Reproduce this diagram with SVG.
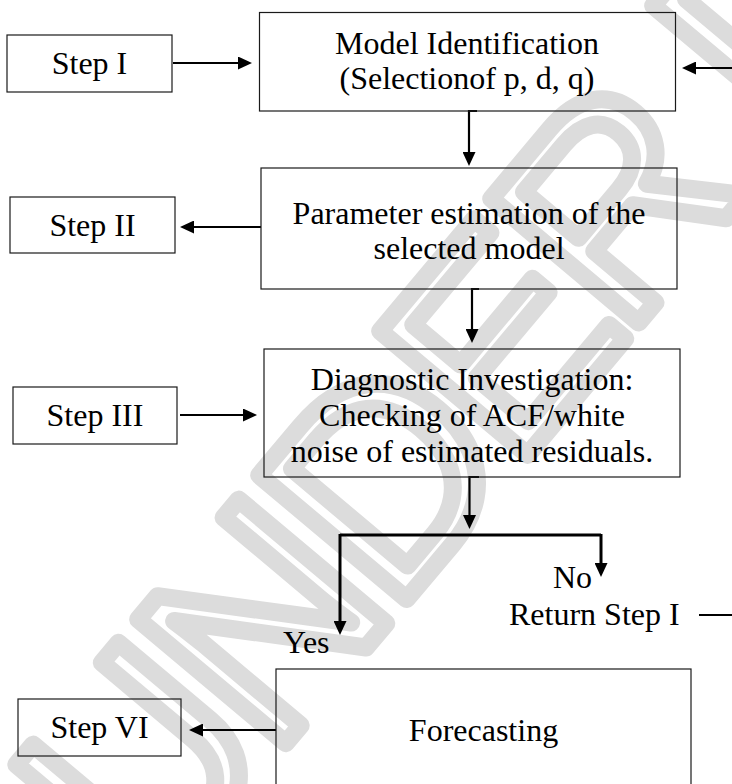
<svg xmlns="http://www.w3.org/2000/svg" width="732" height="784" viewBox="0 0 732 784">
<style>
  .box { fill: none; stroke: #1a1a1a; stroke-width: 1.2; }
  .t { font-family: "Liberation Serif", "Times New Roman", serif; font-size: 32px; fill: #000; }
  .c { text-anchor: middle; }
  .ln { fill: none; stroke: #000; stroke-width: 2.2; }
  .thick { stroke-width: 3; }
  .wm { font-family: "Liberation Sans", Arial, sans-serif; font-size: 280px; letter-spacing: -14px; fill: none; stroke: #dcdcdc; stroke-width: 18; stroke-linejoin: round; }
</style>
<defs>
  <marker id="ah" viewBox="0 0 14 13" refX="6" refY="6.5" markerWidth="14" markerHeight="13" markerUnits="userSpaceOnUse" orient="auto">
    <path d="M0,0 L14,6.5 L0,13 z" fill="#000"/>
  </marker>
</defs>
<rect width="732" height="784" fill="#fff"/>
<g id="watermark">
  <text class="wm" transform="translate(150,905) rotate(-50)">UNDER PEER REVIEW</text>
</g>
<g id="connectors">
  <path class="ln" d="M173,63 H244" marker-end="url(#ah)"/>
  <path class="ln" d="M477,111 H469 V158" marker-end="url(#ah)"/>
  <path class="ln" d="M261,227 H188" marker-end="url(#ah)"/>
  <path class="ln" d="M479,289 H472 V335" marker-end="url(#ah)"/>
  <path class="ln" d="M180,415 H249" marker-end="url(#ah)"/>
  <path class="ln" d="M479,477 H469.5 V521" marker-end="url(#ah)"/>
  <path class="ln thick" d="M340,535 H601"/>
  <path class="ln thick" d="M340,534 V627" marker-end="url(#ah)"/>
  <path class="ln thick" d="M601,534 V569" marker-end="url(#ah)"/>
  <path class="ln" d="M699,615 H732"/>
  <path class="ln" d="M732,68 H690" marker-end="url(#ah)"/>
  <path class="ln" d="M276,730 H197" marker-end="url(#ah)"/>
</g>
<g id="step1">
  <rect class="box" x="7" y="35" width="165" height="57"/>
  <text class="t c" x="89.5" y="74">Step I</text>
</g>
<g id="model-identification">
  <rect class="box" x="259.5" y="12.5" width="416" height="98.5"/>
  <text class="t c" x="467" y="54">Model Identification</text>
  <text class="t c" x="467" y="89">(Selectionof p, d, q)</text>
</g>
<g id="step2">
  <rect class="box" x="10" y="197" width="165" height="56"/>
  <text class="t c" x="92.5" y="236">Step II</text>
</g>
<g id="parameter-estimation">
  <rect class="box" x="261" y="168" width="416" height="121"/>
  <text class="t c" x="469" y="224">Parameter estimation of the</text>
  <text class="t c" x="469" y="259">selected model</text>
</g>
<g id="step3">
  <rect class="box" x="13" y="387" width="164" height="57"/>
  <text class="t c" x="95" y="426">Step III</text>
</g>
<g id="diagnostic">
  <rect class="box" x="264" y="349" width="416" height="128"/>
  <text class="t c" x="472" y="390">Diagnostic Investigation:</text>
  <text class="t c" x="472" y="426">Checking of ACF/white</text>
  <text class="t c" x="472" y="462">noise of estimated residuals.</text>
</g>
<g id="labels">
  <text class="t" x="553" y="588">No</text>
  <text class="t" x="509" y="625">Return Step I</text>
  <text class="t" x="283" y="653">Yes</text>
</g>
<g id="forecasting">
  <rect class="box" x="276" y="669" width="415" height="140"/>
  <text class="t c" x="483.5" y="741">Forecasting</text>
</g>
<g id="step6">
  <rect class="box" x="18" y="699" width="163" height="57"/>
  <text class="t c" x="99.5" y="738">Step VI</text>
</g>
</svg>
